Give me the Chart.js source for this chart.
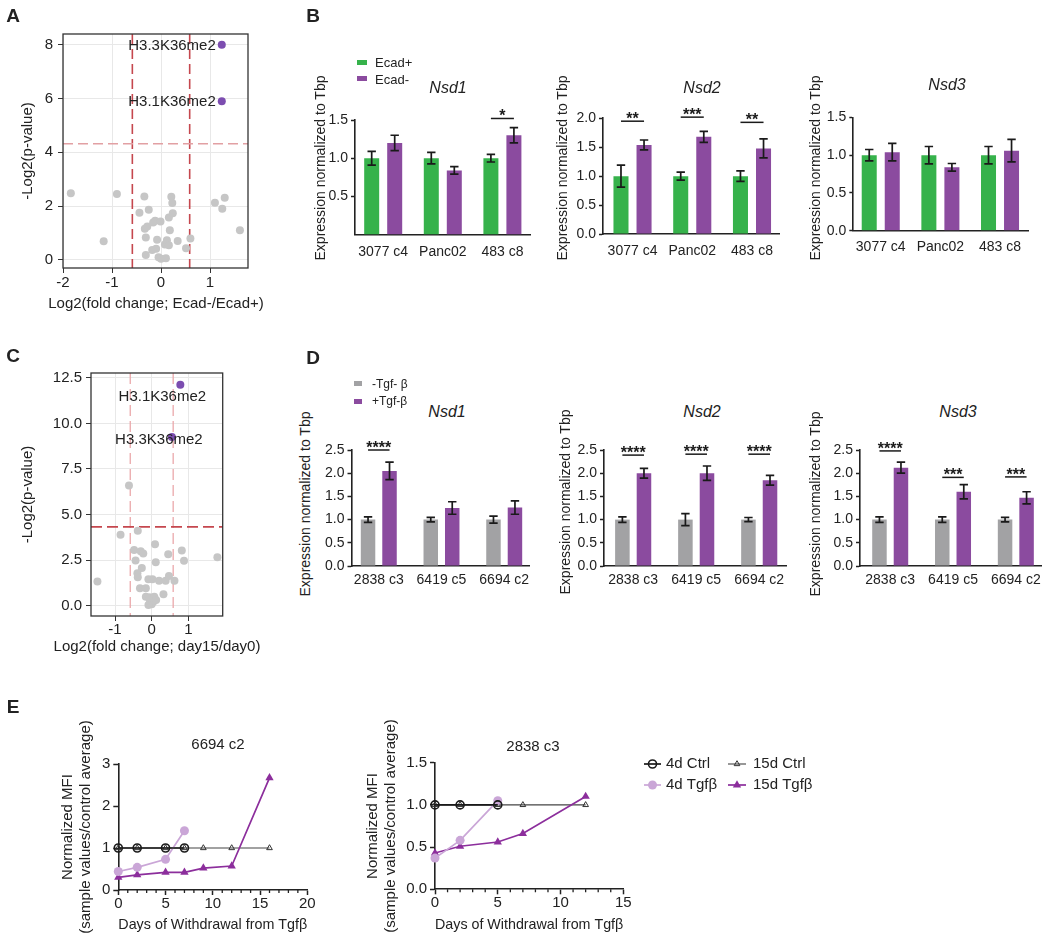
<!DOCTYPE html>
<html><head><meta charset="utf-8">
<script src="https://cdn.jsdelivr.net/npm/chart.js"></script>
<style>
html,body{margin:0;padding:0;background:#fff}
body{position:relative;width:1050px;height:945px;overflow:hidden;font-family:'Liberation Sans',Arial,Helvetica,sans-serif;color:#222}
</style></head><body>
<script>
// ================= DATA =================
// Panel A volcano (Ecad-/Ecad+)
const volcanoA_fc = [-1.84,-0.90,-1.17,-0.34,-0.44,-0.25,-0.33,-0.28,-0.16,-0.12,-0.01,-0.31,-0.31,-0.18,-0.10,-0.08,-0.05,0.00,0.10,0.08,0.12,0.18,0.16,0.24,0.21,0.23,0.34,0.51,0.60,1.10,1.25,1.30,1.61,0.16];
const volcanoA_p  = [2.48,2.45,0.69,2.36,1.75,1.87,1.16,1.24,1.39,1.46,1.43,0.83,0.18,0.37,0.42,0.75,0.10,0.04,0.06,0.57,0.73,1.10,1.58,1.74,2.35,2.12,0.70,0.43,0.80,2.13,1.90,2.31,1.10,0.55];
const volcanoA_hitFc = [1.24, 1.24];
const volcanoA_hitP  = [8.0, 5.9];
const volcanoA_hitLabels = ['H3.3K36me2', 'H3.1K36me2'];
const volcanoA_xTicks = [-2, -1, 0, 1];
const volcanoA_yTicks = [0, 2, 4, 6, 8];

// Panel C volcano (day15/day0)
const volcanoC_fc = [-1.48,-0.85,-0.38,-0.62,-0.48,-0.30,-0.23,-0.44,-0.27,-0.39,-0.38,0.09,0.11,0.45,0.82,0.88,1.79,-0.32,-0.16,-0.16,-0.06,0.00,0.05,0.07,-0.05,0.12,0.20,0.38,0.32,0.47,0.62,-0.09,0.02,-0.09];
const volcanoC_p  = [1.32,3.89,4.11,6.60,3.06,2.99,2.86,2.47,2.07,1.78,1.56,3.37,2.38,2.82,3.02,2.46,2.66,0.95,0.95,0.49,0.46,0.07,0.22,0.49,0.31,0.31,1.36,1.36,0.62,1.63,1.37,1.45,1.45,0.04];
const volcanoC_hitFc = [0.78, 0.55];
const volcanoC_hitP  = [12.13, 9.26];
const volcanoC_hitLabels = ['H3.1K36me2', 'H3.3K36me2'];
const volcanoC_xTicks = [-1, 0, 1];
const volcanoC_yTicks = [0, 2.5, 5, 7.5, 10, 12.5];

const foldChangeCut = 0.585;   // log2(1.5)
const pValueCut = 4.32;        // -log2(0.05)

// Panel B (Ecad+ vs Ecad-)
const cellLinesB = ['3077 c4', 'Panc02', '483 c8'];
const seriesB = ['Ecad+', 'Ecad-'];
const nsd1B_ecadPos = [1.0, 1.0, 1.0];   const nsd1B_ecadPosErr = [0.09, 0.075, 0.05];
const nsd1B_ecadNeg = [1.2, 0.84, 1.3];  const nsd1B_ecadNegErr = [0.10, 0.05, 0.10];
const nsd1B_sig = ['', '', '*'];
const nsd2B_ecadPos = [1.0, 1.0, 1.0];   const nsd2B_ecadPosErr = [0.19, 0.07, 0.09];
const nsd2B_ecadNeg = [1.54, 1.68, 1.48];const nsd2B_ecadNegErr = [0.085, 0.095, 0.165];
const nsd2B_sig = ['**', '***', '**'];
const nsd3B_ecadPos = [1.0, 1.0, 1.0];   const nsd3B_ecadPosErr = [0.075, 0.115, 0.115];
const nsd3B_ecadNeg = [1.04, 0.84, 1.06];const nsd3B_ecadNegErr = [0.115, 0.05, 0.148];
const nsd3B_sig = ['', '', ''];
const nsd1B_yTicks = [0.5, 1.0, 1.5];
const nsd2B_yTicks = [0, 0.5, 1.0, 1.5, 2.0];
const nsd3B_yTicks = [0, 0.5, 1.0, 1.5];

// Panel D (-Tgf-β vs +Tgf-β)
const cellLinesD = ['2838 c3', '6419 c5', '6694 c2'];
const seriesD = ['-Tgf- β', '+Tgf-β'];
const nsd1D_minus = [1.0, 1.0, 1.0];    const nsd1D_minusErr = [0.06, 0.05, 0.075];
const nsd1D_plus  = [2.05, 1.25, 1.26]; const nsd1D_plusErr  = [0.19, 0.135, 0.145];
const nsd1D_sig = ['****', '', ''];
const nsd2D_minus = [1.0, 1.0, 1.0];    const nsd2D_minusErr = [0.06, 0.13, 0.045];
const nsd2D_plus  = [2.0, 2.0, 1.85];   const nsd2D_plusErr  = [0.105, 0.155, 0.105];
const nsd2D_sig = ['****', '****', '****'];
const nsd3D_minus = [1.0, 1.0, 1.0];    const nsd3D_minusErr = [0.06, 0.06, 0.05];
const nsd3D_plus  = [2.12, 1.6, 1.47];  const nsd3D_plusErr  = [0.12, 0.155, 0.13];
const nsd3D_sig = ['****', '***', '***'];
const nsdD_yTicks = [0, 0.5, 1.0, 1.5, 2.0, 2.5];

// Panel E (MFI after withdrawal)
const seriesE = ['4d Ctrl', '4d Tgfβ', '15d Tgfβ', '15d Ctrl'];
const e6694_days4  = [0, 2, 5, 7];
const e6694_ctrl4  = [1, 1, 1, 1];
const e6694_tgf4   = [0.44, 0.54, 0.73, 1.41];
const e6694_days15 = [0, 2, 5, 7, 9, 12, 16];
const e6694_ctrl15 = [1, 1, 1, 1, 1, 1, 1];
const e6694_tgf15  = [0.30, 0.36, 0.42, 0.42, 0.52, 0.57, 2.67];
const e2838_days4  = [0, 2, 5];
const e2838_ctrl4  = [1, 1, 1];
const e2838_tgf4   = [0.37, 0.58, 1.05];
const e2838_days15 = [0, 2, 5, 7, 12];
const e2838_ctrl15 = [1, 1, 1, 1, 1];
const e2838_tgf15  = [0.43, 0.51, 0.56, 0.66, 1.10];
const e6694_xTicks = [0, 5, 10, 15, 20];
const e6694_yTicks = [0, 1, 2, 3];
const e2838_xTicks = [0, 5, 10, 15];
const e2838_yTicks = [0, 0.5, 1.0, 1.5];

// ================= SETUP =================
const FONT = "'Liberation Sans', Arial, Helvetica, sans-serif";
Chart.defaults.font.family = FONT;
Chart.defaults.font.size = 14;
Chart.defaults.color = '#222';

const GREEN = '#36b24b', PURPLE = '#8b4b9f', GRAY = '#a2a2a4';

function drawMarker(ctx, style, r, cx, cy, fill, stroke, bw) {
  ctx.beginPath();
  if (style === 'triangle') {
    for (let k = 0; k < 3; k++) {
      const a = k * 2 * Math.PI / 3;
      const px = cx + Math.sin(a) * r, py = cy - Math.cos(a) * r;
      k ? ctx.lineTo(px, py) : ctx.moveTo(px, py);
    }
    ctx.closePath();
  } else {
    ctx.arc(cx, cy, r, 0, Math.PI * 2);
  }
  ctx.fillStyle = fill; ctx.fill();
  if (bw > 0) { ctx.lineWidth = bw; ctx.strokeStyle = stroke; ctx.stroke(); }
}

const extras = {
  id: 'extras',
  beforeDatasetsDraw(chart, args, o) {
    const {ctx, chartArea: a, scales} = chart;
    const x = scales.x, y = scales.y;
    ctx.save();
    (o.lines || []).forEach(l => {
      ctx.beginPath(); ctx.setLineDash(l.dash || []);
      ctx.strokeStyle = l.color; ctx.lineWidth = l.width;
      if (l.axis === 'x') { const p = x.getPixelForValue(l.value); ctx.moveTo(p, a.top); ctx.lineTo(p, a.bottom); }
      else { const p = y.getPixelForValue(l.value); ctx.moveTo(a.left, p); ctx.lineTo(a.right, p); }
      ctx.stroke();
    });
    ctx.restore();
  },
  afterDatasetsDraw(chart, args, o) {
    const {ctx, chartArea: a, scales} = chart;
    const x = scales.x, y = scales.y;
    ctx.save();
    ctx.setLineDash([]);
    if (o.frame) {
      ctx.strokeStyle = o.frame.color; ctx.lineWidth = o.frame.width;
      ctx.strokeRect(a.left, a.top, a.right - a.left, a.bottom - a.top);
    }
    if (o.errorBars) {
      chart.data.datasets.forEach((ds, i) => {
        if (!ds.errors) return;
        const meta = chart.getDatasetMeta(i);
        meta.data.forEach((el, j) => {
          const v = ds.data[j].y, e = ds.errors[j];
          const t = y.getPixelForValue(v + e), b = y.getPixelForValue(v - e);
          ctx.strokeStyle = '#1a1a1a'; ctx.lineWidth = 1.7;
          ctx.beginPath();
          ctx.moveTo(el.x, t); ctx.lineTo(el.x, b);
          ctx.moveTo(el.x - 4.2, t); ctx.lineTo(el.x + 4.2, t);
          ctx.moveTo(el.x - 4.2, b); ctx.lineTo(el.x + 4.2, b);
          ctx.stroke();
        });
      });
    }
    if (o.sig) {
      const m0 = chart.getDatasetMeta(0), m1 = chart.getDatasetMeta(1);
      o.sig.text.forEach((t, j) => {
        if (!t) return;
        const x1 = m0.data[j].x, x2 = m1.data[j].x, py = y.getPixelForValue(o.sig.levels[j]);
        ctx.strokeStyle = '#1a1a1a'; ctx.lineWidth = 1.5;
        ctx.beginPath(); ctx.moveTo(x1, py); ctx.lineTo(x2, py); ctx.stroke();
        ctx.fillStyle = '#1a1a1a'; ctx.font = 'bold 16px ' + FONT;
        ctx.textAlign = 'center'; ctx.textBaseline = 'alphabetic';
        ctx.fillText(t, (x1 + x2) / 2, py + 3);
      });
    }
    if (o.pointLabels) {
      ctx.fillStyle = '#222'; ctx.font = '15px ' + FONT; ctx.textBaseline = 'middle';
      o.pointLabels.forEach(p => {
        ctx.textAlign = p.align;
        ctx.fillText(p.text, x.getPixelForValue(p.x) + p.dx, y.getPixelForValue(p.y) + p.dy);
      });
    }
    if (o.minor) {
      ctx.strokeStyle = '#222'; ctx.lineWidth = 1.3;
      ctx.beginPath();
      for (let v = x.min; v <= x.max; v += o.minor.step) {
        if (v % o.minor.every === 0) continue;
        const p = x.getPixelForValue(v);
        ctx.moveTo(p, a.bottom); ctx.lineTo(p, a.bottom + o.minor.len);
      }
      ctx.stroke();
    }
    if (o.legend) {
      o.legend.items.forEach(it => {
        const ds = chart.data.datasets[it.ds];
        ctx.strokeStyle = ds.borderColor; ctx.lineWidth = ds.borderWidth;
        ctx.beginPath(); ctx.moveTo(it.x, it.y); ctx.lineTo(it.x + it.w, it.y); ctx.stroke();
        drawMarker(ctx, ds.pointStyle, ds.pointRadius, it.x + it.w / 2, it.y, ds.pointBackgroundColor, ds.pointBorderColor, ds.pointBorderWidth);
        ctx.fillStyle = '#222'; ctx.font = '15px ' + FONT; ctx.textAlign = 'left'; ctx.textBaseline = 'middle';
        ctx.fillText(ds.label, it.tx, it.y);
      });
    }
    ctx.restore();
  }
};

// place a chart so that its plot area lands on the given page rectangle
function mk(box, area, cfg) {
  const cv = document.createElement('canvas');
  cv.width = box.w; cv.height = box.h;
  cv.style.cssText = `position:absolute;left:${box.l}px;top:${box.t}px;width:${box.w}px;height:${box.h}px;`;
  document.body.appendChild(cv);
  const o = cfg.options;
  Object.assign(o, {responsive: false, maintainAspectRatio: false, animation: false, devicePixelRatio: 1});
  o.layout = {autoPadding: false, padding: {left: 0, bottom: 0, top: area.t - box.t, right: box.l + box.w - area.r}};
  o.scales.x.afterFit = s => { s.height = box.t + box.h - area.b; };
  o.scales.y.afterFit = s => { s.width = area.l - box.l; };
  o.plugins = Object.assign({legend: {display: false}, tooltip: {enabled: false}}, o.plugins || {});
  cfg.plugins = [extras];
  return new Chart(cv.getContext('2d'), cfg);
}

function volcano(box, area, c) {
  return mk(box, area, {
    type: 'scatter',
    data: {datasets: [
      {data: c.hitX.map((v, i) => ({x: v, y: c.hitY[i]})), pointRadius: 4, backgroundColor: '#7c4db0', borderWidth: 0, clip: false},
      {data: c.fc.map((v, i) => ({x: v, y: c.p[i]})), pointRadius: 4, backgroundColor: '#c6c6c6', borderWidth: 0, clip: false}
    ]},
    options: {
      scales: {
        x: {type: 'linear', min: c.xMin, max: c.xMax,
            afterBuildTicks: s => { s.ticks = c.xTicks.map(v => ({value: v})); },
            ticks: {font: {size: 15}, padding: c.xPad, callback: v => String(v)},
            grid: {color: '#e8e8e8', tickColor: '#333', tickLength: 5},
            border: {display: false}},
        y: {type: 'linear', min: c.yMin, max: c.yMax,
            afterBuildTicks: s => { s.ticks = c.yTicks.map(v => ({value: v})); },
            ticks: {font: {size: 15}, padding: c.yPad, callback: c.yFmt},
            grid: {color: '#e8e8e8', tickColor: '#333', tickLength: 5},
            border: {display: false},
            title: {display: true, text: '-Log2(p-value)', font: {size: 15}, padding: {top: c.yTitlePad, bottom: 0}}}
      },
      plugins: {extras: {lines: c.lines, frame: {color: '#333', width: 1.3}, pointLabels: c.labels}}
    }
  });
}

function bars(box, area, c) {
  const mkData = vals => c.labels.map((_, i) => ({x: i, y: vals[i]}));
  return mk(box, area, {
    type: 'bar',
    data: {datasets: [
      {label: c.names[0], data: mkData(c.a), errors: c.aErr, backgroundColor: c.colA, categoryPercentage: c.catPct, barPercentage: c.barPct},
      {label: c.names[1], data: mkData(c.b), errors: c.bErr, backgroundColor: c.colB, categoryPercentage: c.catPct, barPercentage: c.barPct}
    ]},
    options: {
      scales: {
        x: {type: 'linear', min: c.xMin, max: c.xMax, z: 1, offset: false, bounds: 'data',
            afterBuildTicks: s => { s.ticks = c.labels.map((_, i) => ({value: i})); },
            ticks: {callback: v => c.labels[v], padding: c.xPad, maxRotation: 0, autoSkip: false, font: {size: 14}},
            grid: {display: false, drawTicks: false, offset: false},
            border: {display: true, color: '#222', width: 1.6}},
        y: {type: 'linear', min: 0, max: c.yMax, z: 1,
            afterBuildTicks: s => { s.ticks = c.yTicks.map(v => ({value: v})); },
            ticks: {callback: v => v.toFixed(1), padding: 3, font: {size: 14}},
            grid: {drawOnChartArea: false, tickLength: 4, tickColor: '#222', tickWidth: 1.5},
            border: {color: '#222', width: 1.6}}
      },
      plugins: {extras: {errorBars: true, sig: {levels: c.sigLevels, text: c.sig}}}
    }
  });
}

function lineSets(d4, c4, t4, d15, c15, t15) {
  const pts = (xs, ys) => xs.map((v, i) => ({x: v, y: ys[i]}));
  const base = {fill: false, tension: 0, clip: false};
  return [
    Object.assign({label: seriesE[0], data: pts(d4, c4), borderColor: '#1a1a1a', borderWidth: 1.7, pointStyle: 'circle', pointRadius: 4, pointBackgroundColor: 'rgba(0,0,0,0)', pointBorderColor: '#1a1a1a', pointBorderWidth: 1.6}, base),
    Object.assign({label: seriesE[1], data: pts(d4, t4), borderColor: '#caa6d7', borderWidth: 1.7, pointStyle: 'circle', pointRadius: 4.5, pointBackgroundColor: '#caa6d7', pointBorderColor: '#caa6d7', pointBorderWidth: 0}, base),
    Object.assign({label: seriesE[2], data: pts(d15, t15), borderColor: '#8c2e9c', borderWidth: 1.7, pointStyle: 'triangle', pointRadius: 4.8, pointBackgroundColor: '#8c2e9c', pointBorderColor: '#8c2e9c', pointBorderWidth: 0}, base),
    Object.assign({label: seriesE[3], data: pts(d15, c15), borderColor: '#444', borderWidth: 1.1, pointStyle: 'triangle', pointRadius: 3.3, pointBackgroundColor: 'rgba(0,0,0,0)', pointBorderColor: '#333', pointBorderWidth: 1}, base)
  ];
}

function lineChart(box, area, c) {
  return mk(box, area, {
    type: 'line',
    data: {datasets: c.datasets},
    options: {
      scales: {
        x: {type: 'linear', min: c.xTicks[0], max: c.xTicks[c.xTicks.length - 1],
            afterBuildTicks: s => { s.ticks = c.xTicks.map(v => ({value: v})); },
            ticks: {font: {size: 15}, padding: 0, callback: v => String(v)},
            grid: {drawOnChartArea: false, tickLength: 5, tickColor: '#222', tickWidth: 1.5},
            border: {color: '#222', width: 1.6},
            title: {display: true, text: 'Days of Withdrawal from Tgfβ', font: {size: 15}, padding: {top: 0, bottom: 11}}},
        y: {type: 'linear', min: c.yTicks[0], max: c.yTicks[c.yTicks.length - 1],
            afterBuildTicks: s => { s.ticks = c.yTicks.map(v => ({value: v})); },
            ticks: {font: {size: 15}, padding: 3, callback: c.yFmt},
            grid: {drawOnChartArea: false, tickLength: 5, tickColor: '#222', tickWidth: 1.5},
            border: {color: '#222', width: 1.6},
            title: {display: true, text: ['Normalized MFI', '(sample values/control average)'], font: {size: 15}, lineHeight: 1.2, padding: {top: c.yTitlePad, bottom: 0}}}
      },
      plugins: {extras: {minor: {step: 1, every: 5, len: 3}, legend: c.legend}}
    }
  });
}

// ================= CHARTS =================
// A
volcano({l: 0, t: 20, w: 262, h: 300}, {l: 63, t: 31, r: 248, b: 268}, {
  fc: volcanoA_fc, p: volcanoA_p, hitX: volcanoA_hitFc, hitY: volcanoA_hitP,
  xMin: -2, xMax: 1.775, yMin: -0.3, yMax: 8.4, xTicks: volcanoA_xTicks, yTicks: volcanoA_yTicks,
  yFmt: v => String(v), xPad: 1, yPad: 5, yTitlePad: 19,
  lines: [
    {axis: 'x', value: -foldChangeCut, color: '#c5474e', width: 1.6, dash: [10, 5]},
    {axis: 'x', value: foldChangeCut, color: '#c5474e', width: 1.6, dash: [10, 5]},
    {axis: 'y', value: pValueCut, color: '#e2a0a3', width: 1.5, dash: [10, 5]}
  ],
  labels: volcanoA_hitLabels.map((t, i) => ({text: t, x: volcanoA_hitFc[i], y: volcanoA_hitP[i], dx: -6, dy: 1, align: 'right'}))
});

// C
volcano({l: 0, t: 360, w: 235, h: 300}, {l: 91, t: 373, r: 222.7, b: 616}, {
  fc: volcanoC_fc, p: volcanoC_p, hitX: volcanoC_hitFc, hitY: volcanoC_hitP,
  xMin: -1.655, xMax: 1.935, yMin: -0.57, yMax: 12.77, xTicks: volcanoC_xTicks, yTicks: volcanoC_yTicks,
  yFmt: v => v.toFixed(1), xPad: 0, yPad: 4, yTitlePad: 19,
  lines: [
    {axis: 'x', value: -foldChangeCut, color: '#eba8ab', width: 1.3, dash: [11, 5]},
    {axis: 'x', value: foldChangeCut, color: '#eba8ab', width: 1.3, dash: [11, 5]},
    {axis: 'y', value: pValueCut, color: '#c5474e', width: 1.6, dash: [11, 5]}
  ],
  labels: [
    {text: volcanoC_hitLabels[0], x: volcanoC_hitFc[0], y: volcanoC_hitP[0], dx: -18, dy: 12, align: 'center'},
    {text: volcanoC_hitLabels[1], x: volcanoC_hitFc[1], y: volcanoC_hitP[1], dx: -13, dy: 3, align: 'center'}
  ]
});

// B
const barB = {labels: cellLinesB, names: seriesB, colA: GREEN, colB: PURPLE, catPct: 0.772, barPct: 0.652};
bars({l: 325, t: 90, w: 215, h: 180}, {l: 355, t: 120, r: 530, b: 234.5}, Object.assign({}, barB, {
  a: nsd1B_ecadPos, aErr: nsd1B_ecadPosErr, b: nsd1B_ecadNeg, bErr: nsd1B_ecadNegErr,
  yMax: 1.5, yTicks: nsd1B_yTicks, xMin: -0.473, xMax: 2.463, xPad: 8.8,
  sig: nsd1B_sig, sigLevels: [0, 0, 1.52]}));
bars({l: 570, t: 90, w: 220, h: 180}, {l: 603, t: 118.3, r: 779, b: 234}, Object.assign({}, barB, {
  a: nsd2B_ecadPos, aErr: nsd2B_ecadPosErr, b: nsd2B_ecadNeg, bErr: nsd2B_ecadNegErr,
  yMax: 2.0, yTicks: nsd2B_yTicks, xMin: -0.494, xMax: 2.452, xPad: 8.8,
  sig: nsd2B_sig, sigLevels: [1.95, 2.02, 1.93]}));
bars({l: 820, t: 80, w: 225, h: 190}, {l: 853.3, t: 117.4, r: 1028, b: 230.7}, Object.assign({}, barB, {
  a: nsd3B_ecadPos, aErr: nsd3B_ecadPosErr, b: nsd3B_ecadNeg, bErr: nsd3B_ecadNegErr,
  yMax: 1.5, yTicks: nsd3B_yTicks, xMin: -0.46, xMax: 2.469, xPad: 7.6,
  sig: nsd3B_sig, sigLevels: [0, 0, 0]}));

// D
const barD = {labels: cellLinesD, names: seriesD, colA: GRAY, colB: PURPLE, catPct: 0.685, barPct: 0.674, yMax: 2.5, yTicks: nsdD_yTicks, xPad: 5.6};
bars({l: 325, t: 430, w: 215, h: 175}, {l: 351.5, t: 450, r: 529.3, b: 566}, Object.assign({}, barD, {
  a: nsd1D_minus, aErr: nsd1D_minusErr, b: nsd1D_plus, bErr: nsd1D_plusErr,
  xMin: -0.435, xMax: 2.40, sig: nsd1D_sig, sigLevels: [2.5, 0, 0]}));
bars({l: 575, t: 430, w: 220, h: 175}, {l: 604, t: 450, r: 786, b: 566}, Object.assign({}, barD, {
  a: nsd2D_minus, aErr: nsd2D_minusErr, b: nsd2D_plus, bErr: nsd2D_plusErr,
  xMin: -0.463, xMax: 2.425, sig: nsd2D_sig, sigLevels: [2.39, 2.41, 2.41]}));
bars({l: 830, t: 430, w: 218, h: 175}, {l: 860, t: 450, r: 1041.7, b: 566}, Object.assign({}, barD, {
  a: nsd3D_minus, aErr: nsd3D_minusErr, b: nsd3D_plus, bErr: nsd3D_plusErr,
  xMin: -0.481, xMax: 2.412, sig: nsd3D_sig, sigLevels: [2.48, 1.91, 1.92]}));

// E
lineChart({l: 0, t: 700, w: 330, h: 245}, {l: 118.3, t: 764, r: 307.3, b: 890}, {
  datasets: lineSets(e6694_days4, e6694_ctrl4, e6694_tgf4, e6694_days15, e6694_ctrl15, e6694_tgf15),
  xTicks: e6694_xTicks, yTicks: e6694_yTicks, yFmt: v => String(v), yTitlePad: 59.3});
lineChart({l: 340, t: 700, w: 500, h: 245}, {l: 435, t: 762.7, r: 623.3, b: 889.3}, {
  datasets: lineSets(e2838_days4, e2838_ctrl4, e2838_tgf4, e2838_days15, e2838_ctrl15, e2838_tgf15),
  xTicks: e2838_xTicks, yTicks: e2838_yTicks, yFmt: v => v.toFixed(1), yTitlePad: 24.3,
  legend: {items: [
    {ds: 0, x: 304, w: 17, y: 64, tx: 326},
    {ds: 3, x: 388, w: 18, y: 64, tx: 413},
    {ds: 1, x: 304, w: 17, y: 85, tx: 326},
    {ds: 2, x: 388, w: 18, y: 85, tx: 413}
  ]}});

// ================= TEXT =================
function label(text, x, y, css, anchor, rot) {
  const d = document.createElement('div');
  d.textContent = text;
  const tx = anchor === 'left' ? '0' : '-50%';
  d.style.cssText = `position:absolute;left:${x}px;top:${y}px;white-space:nowrap;line-height:1;transform:translate(${tx},-50%) rotate(${rot || 0}deg);${css || ''}`;
  document.body.appendChild(d);
}
function swatch(x, y, w, h, color) {
  const d = document.createElement('div');
  d.style.cssText = `position:absolute;left:${x}px;top:${y}px;width:${w}px;height:${h}px;background:${color}`;
  document.body.appendChild(d);
}
const LET = 'font-weight:bold;font-size:19px;';
label('A', 13, 15, LET); label('B', 313, 15, LET); label('C', 13, 355, LET); label('D', 313, 357, LET); label('E', 13, 706, LET);

// volcano x-axis titles (wider than the plot areas)
label('Log2(fold change; Ecad-/Ecad+)', 156, 302, 'font-size:15px;');
label('Log2(fold change; day15/day0)', 157, 645, 'font-size:15px;');

const TIT = 'font-style:italic;font-size:16px;';
label('Nsd1', 448, 88, TIT); label('Nsd2', 702, 88, TIT); label('Nsd3', 947, 85, TIT);
label('Nsd1', 447, 412, TIT); label('Nsd2', 702, 412, TIT); label('Nsd3', 958, 412, TIT);

const YT = 'font-size:14px;';
const yTitle = 'Expression normalized to Tbp';
label(yTitle, 320, 168, YT, 'center', -90); label(yTitle, 562, 168, YT, 'center', -90); label(yTitle, 815, 168, YT, 'center', -90);
label(yTitle, 305, 504, YT, 'center', -90); label(yTitle, 565, 502, YT, 'center', -90); label(yTitle, 815, 504, YT, 'center', -90);

// legends B and D
swatch(357, 59.5, 10, 5, GREEN); label(seriesB[0], 375, 62, 'font-size:13px;', 'left');
swatch(357, 76, 10, 5, PURPLE); label(seriesB[1], 375, 78.5, 'font-size:13px;', 'left');
swatch(354, 381, 8, 5, GRAY); label(seriesD[0], 372, 383.5, 'font-size:12px;', 'left');
swatch(354, 398.5, 8, 5, PURPLE); label(seriesD[1], 372, 401, 'font-size:12px;', 'left');

// E titles
label('6694 c2', 218, 743, 'font-size:15px;');
label('2838 c3', 533, 745, 'font-size:15px;');
</script>
</body></html>
